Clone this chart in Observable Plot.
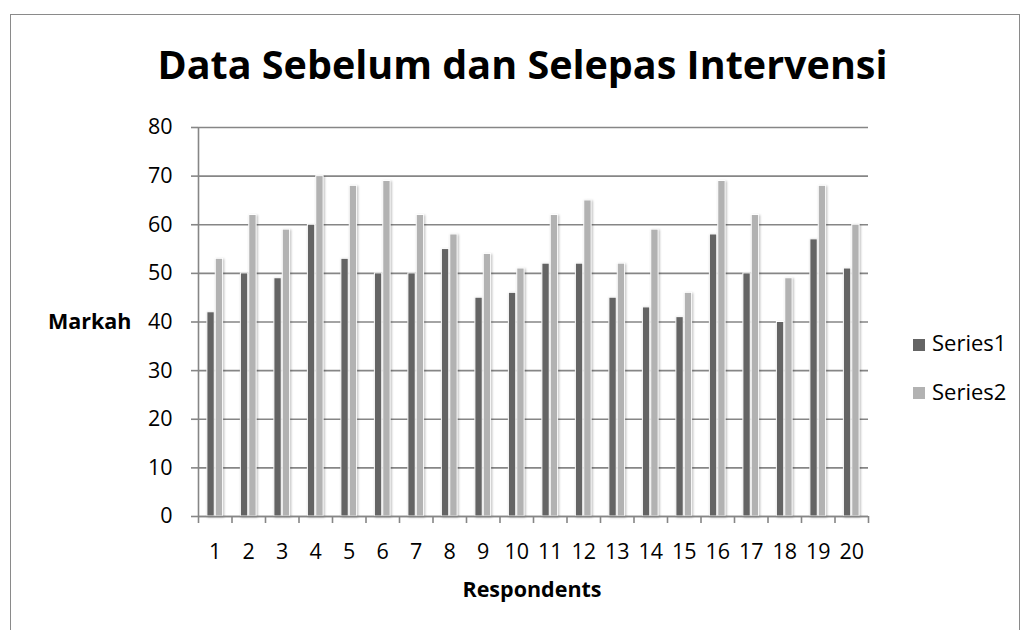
<!DOCTYPE html>
<html>
<head>
<meta charset="utf-8">
<script src="https://cdn.jsdelivr.net/npm/d3@7"></script>
<script src="https://cdn.jsdelivr.net/npm/@observablehq/plot@0.6"></script>
<style>
  html, body { margin: 0; padding: 0; background: #fff; }
  #wrap { position: relative; width: 1021px; height: 630px; overflow: hidden; font-family: "Open Sans", Lato, sans-serif; color: #000; }
  #frame { position: absolute; left: 10px; top: 14px; width: 1010px; height: 640px; border: 1.5px solid #8a8a8a; box-sizing: border-box; }
  #title { position: absolute; left: 0; width: 1045px; top: 45px; text-align: center; font-weight: 700; font-size: 39.5px; line-height: 39.5px; white-space: nowrap; }
  #ylab { position: absolute; left: 48px; top: 310px; font-weight: 700; font-size: 21.5px; line-height: 21.5px; }
  #xlab { position: absolute; left: 198px; width: 668px; top: 578px; text-align: center; font-weight: 700; font-size: 21.5px; line-height: 21.5px; }
  #chart { position: absolute; left: 0; top: 100px; }
  .sw { position: absolute; left: 913px; width: 12px; height: 12px; }
  .leg { position: absolute; left: 932px; font-size: 22px; line-height: 22px; white-space: nowrap; }
  #chart svg g[aria-label="rect"] { filter: drop-shadow(1px 1px 1.2px rgba(0,0,0,0.28)); }
</style>
</head>
<body>
<div id="wrap">
  <div id="frame"></div>
  <div id="title">Data Sebelum dan Selepas Intervensi</div>
  <div id="ylab">Markah</div>
  <div id="chart"></div>
  <div id="xlab">Respondents</div>
  <div class="sw" style="top:339px;background:#646464"></div>
  <div class="leg" style="top:331px">Series1</div>
  <div class="sw" style="top:387px;background:#b2b2b2"></div>
  <div class="leg" style="top:380px">Series2</div>
</div>
<script>
const respondents = d3.range(1, 21);
const series1 = [42, 50, 49, 60, 53, 50, 50, 55, 45, 46, 52, 52, 45, 43, 41, 58, 50, 40, 57, 51];
const series2 = [53, 62, 59, 70, 68, 69, 62, 58, 54, 51, 62, 65, 52, 59, 46, 69, 62, 49, 68, 60];
const seriesNames = ["Series1", "Series2"];
const seriesColors = ["#646464", "#b2b2b2"];
const yTicks = [0, 10, 20, 30, 40, 50, 60, 70, 80];

const data = [];
respondents.forEach((r, i) => {
  data.push({r, s: "Series1", v: series1[i], x1: r - 0.25, x2: r});
  data.push({r, s: "Series2", v: series2[i], x1: r, x2: r + 0.25});
});
const boundaries = respondents.map(r => r - 0.5).concat([respondents[respondents.length - 1] + 0.5]);

const plot = Plot.plot({
  width: 1021,
  height: 480,
  marginLeft: 198,
  marginRight: 153,
  marginTop: 27,
  marginBottom: 64,
  style: {fontFamily: "'Open Sans', Lato, sans-serif", fontSize: "21.5px", color: "#000", background: "transparent", overflow: "visible"},
  x: {domain: [0.5, 20.5], axis: null, label: null},
  y: {domain: [0, 80], axis: null, label: null},
  color: {domain: seriesNames, range: seriesColors},
  marks: [
    Plot.gridY(yTicks, {stroke: "#868686", strokeOpacity: 1, strokeWidth: 1.6}),
    Plot.rectY(data, {x1: "x1", x2: "x2", y1: 0, y2: "v", fill: "s", stroke: "white", strokeWidth: 1, insetLeft: 0.5, insetRight: 0.5}),
    Plot.axisY({ticks: yTicks, label: null, tickSize: 7, tickPadding: 19, stroke: "#868686", strokeWidth: 1.6, fill: "#000", tickFormat: d => d}),
    Plot.ruleX([0.5], {stroke: "#868686", strokeWidth: 1.6}),
    Plot.ruleY([0], {stroke: "#868686", strokeWidth: 1.6}),
    Plot.axisX({ticks: boundaries, label: null, tickSize: 7, tickFormat: () => "", stroke: "#868686", strokeWidth: 1.6}),
    Plot.axisX({ticks: respondents, label: null, tickSize: 0, tickPadding: 27, tickFormat: d => d, fill: "#000"})
  ]
});
document.getElementById("chart").appendChild(plot);
</script>
</body>
</html>
